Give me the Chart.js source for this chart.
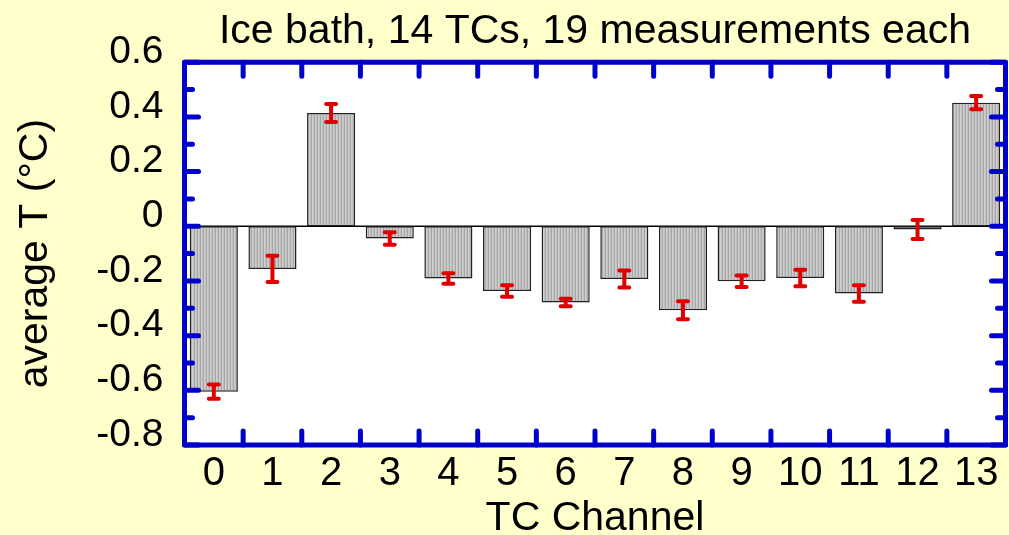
<!DOCTYPE html>
<html>
<head>
<meta charset="utf-8">
<script src="https://cdn.jsdelivr.net/npm/chart.js@4/dist/chart.umd.min.js"></script>
<style>
  html, body { margin: 0; padding: 0; background: #ffffcc; }
  canvas { display: block; }
</style>
</head>
<body>
<canvas id="tcChart" width="1009" height="535"></canvas>
<script>
// TC channels and their mean offsets in the ice bath
const channels = ['0', '1', '2', '3', '4', '5', '6', '7', '8', '9', '10', '11', '12', '13'];
const avgTemp = [-0.605, -0.156, 0.414, -0.045, -0.191, -0.237, -0.279, -0.193, -0.307, -0.201, -0.189, -0.246, -0.012, 0.452];
const errTemp = [0.026, 0.048, 0.033, 0.023, 0.019, 0.021, 0.014, 0.031, 0.033, 0.021, 0.030, 0.030, 0.035, 0.024];
const yMin = -0.8;
const yMax = 0.6;
const yStep = 0.2;

const FONT = '"Liberation Sans", Arial, sans-serif';
const BLUE = '#0000cc';

// grey hatch fill like the original bars
function hatch() {
  const c = document.createElement('canvas');
  c.width = 3; c.height = 1;
  const g = c.getContext('2d');
  g.fillStyle = '#cecece'; g.fillRect(0, 0, 1, 1);
  g.fillStyle = '#c2c2c2'; g.fillRect(1, 0, 1, 1);
  g.fillStyle = '#a6a6a6'; g.fillRect(2, 0, 1, 1);
  return g.createPattern(c, 'repeat');
}

const background = {
  id: 'background',
  beforeDraw(chart) {
    const { ctx, chartArea: a } = chart;
    ctx.save();
    ctx.fillStyle = '#ffffcc';
    ctx.fillRect(0, 0, chart.width, chart.height);
    ctx.fillStyle = '#ffffff';
    ctx.fillRect(a.left, a.top, a.right - a.left, a.bottom - a.top);
    ctx.restore();
  },
  beforeDatasetsDraw(chart) {
    // zero line
    const { ctx, chartArea: a } = chart;
    const y0 = chart.scales.y.getPixelForValue(0);
    ctx.save();
    ctx.strokeStyle = '#000';
    ctx.lineWidth = 1.5;
    ctx.beginPath();
    ctx.moveTo(a.left, y0);
    ctx.lineTo(a.right, y0);
    ctx.stroke();
    ctx.restore();
  }
};

const errorBars = {
  id: 'errorBars',
  afterDatasetsDraw(chart) {
    const { ctx } = chart;
    const y = chart.scales.y;
    const bars = chart.getDatasetMeta(0).data;
    ctx.save();
    ctx.strokeStyle = '#e00000';
    ctx.lineWidth = 4;
    ctx.lineCap = 'round';
    bars.forEach((bar, i) => {
      const top = y.getPixelForValue(avgTemp[i] + errTemp[i]);
      const bot = y.getPixelForValue(avgTemp[i] - errTemp[i]);
      ctx.beginPath();
      ctx.moveTo(bar.x, top); ctx.lineTo(bar.x, bot);
      ctx.moveTo(bar.x - 5, top); ctx.lineTo(bar.x + 5, top);
      ctx.moveTo(bar.x - 5, bot); ctx.lineTo(bar.x + 5, bot);
      ctx.stroke();
    });
    ctx.restore();
  }
};

// blue frame with inward ticks on all four sides
const frame = {
  id: 'frame',
  afterDraw(chart) {
    const { ctx, chartArea: a } = chart;
    const xs = chart.scales.x;
    const ys = chart.scales.y;
    ctx.save();
    ctx.strokeStyle = BLUE;
    ctx.lineWidth = 5;
    ctx.lineCap = 'round';
    ctx.beginPath();
    const yt = ys.ticks.map(t => t.value);
    yt.forEach((v, i) => {
      const p = ys.getPixelForValue(v);
      ctx.moveTo(a.left, p); ctx.lineTo(a.left + 14, p);
      ctx.moveTo(a.right, p); ctx.lineTo(a.right - 14, p);
      if (i < yt.length - 1) {
        const m = ys.getPixelForValue((v + yt[i + 1]) / 2);
        ctx.moveTo(a.left, m); ctx.lineTo(a.left + 8, m);
        ctx.moveTo(a.right, m); ctx.lineTo(a.right - 8, m);
      }
    });
    for (let i = 0; i < channels.length - 1; i++) {
      const p = (xs.getPixelForTick(i) + xs.getPixelForTick(i + 1)) / 2;
      ctx.moveTo(p, a.top); ctx.lineTo(p, a.top + 14);
      ctx.moveTo(p, a.bottom); ctx.lineTo(p, a.bottom - 14);
    }
    ctx.stroke();
    ctx.lineCap = 'butt';
    ctx.lineJoin = 'round';
    ctx.strokeRect(a.left, a.top, a.right - a.left, a.bottom - a.top);
    ctx.restore();
  }
};

const ctx = document.getElementById('tcChart').getContext('2d');
new Chart(ctx, {
  type: 'bar',
  data: {
    labels: channels,
    datasets: [{
      data: avgTemp,
      backgroundColor: hatch(),
      borderColor: '#222',
      borderWidth: 1.5,
      borderSkipped: false,
      barPercentage: 0.82,
      categoryPercentage: 1
    }]
  },
  options: {
    responsive: false,
    animation: false,
    devicePixelRatio: 1,
    layout: { padding: { left: 0, right: 3.5, top: 0, bottom: 0 } },
    plugins: {
      legend: { display: false },
      tooltip: { enabled: false },
      title: {
        display: true,
        text: 'Ice bath, 14 TCs, 19 measurements each',
        color: '#000',
        fullSize: false,
        font: { family: FONT, size: 41, weight: 'normal', lineHeight: 1.2 },
        padding: { top: 7, bottom: 6 }
      }
    },
    scales: {
      x: {
        offset: true,
        grid: { display: false, drawTicks: false },
        border: { display: false },
        ticks: { color: '#000', padding: 5, maxRotation: 0, font: { family: FONT, size: 40 } },
        title: {
          display: true,
          text: 'TC Channel',
          color: '#000',
          font: { family: FONT, size: 41, lineHeight: 0.8 },
          padding: 0
        },
        afterFit: s => { s.height = 90; }
      },
      y: {
        min: yMin,
        max: yMax,
        grid: { display: false, drawTicks: false },
        border: { display: false },
        ticks: {
          stepSize: yStep,
          color: '#000',
          padding: 21,
          labelOffset: -10,
          font: { family: FONT, size: 39 },
          callback: v => String(Number(v.toFixed(1)))
        },
        title: {
          display: true,
          text: 'average T (°C)',
          color: '#000',
          font: { family: FONT, size: 41, lineHeight: 1.2 },
          padding: { top: 11, bottom: 0 }
        },
        afterFit: s => { s.width = 184.5; }
      }
    }
  },
  plugins: [background, errorBars, frame]
});
</script>
</body>
</html>
